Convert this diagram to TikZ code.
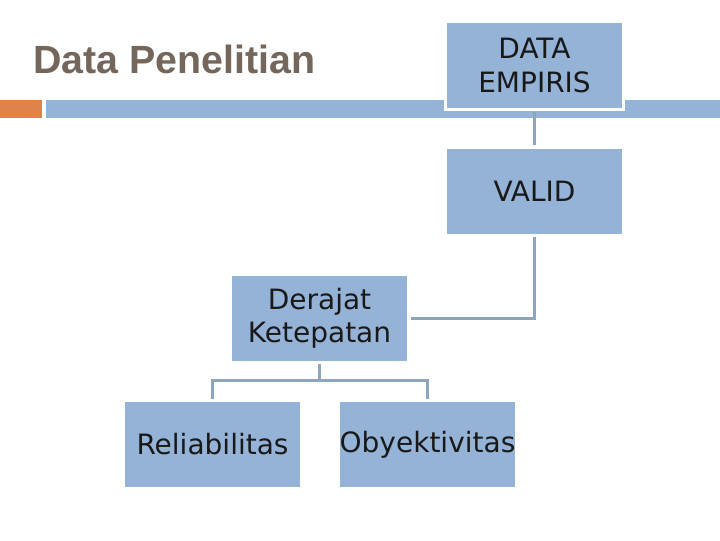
\documentclass[tikz,border=0pt]{standalone}
\usepackage{fontspec}
\newfontfamily\titlefont{Liberation Sans}
\newfontfamily\boxfont{DejaVu Sans}
\usepackage{tikz}
\definecolor{boxblue}{HTML}{95B3D7}
\definecolor{linegray}{HTML}{8EA6BC}
\definecolor{titlebrown}{RGB}{117,102,92}
\definecolor{accentorange}{HTML}{E0834A}

\begin{document}
\begin{tikzpicture}[x=0.75pt, y=-0.75pt,
  box/.style={rectangle, fill=boxblue, draw=white, line width=2.25pt,
    minimum width=133.5pt, minimum height=66pt, inner sep=0pt, outer sep=1.5pt,
    align=center, font=\boxfont\fontsize{21}{25}\selectfont, text=black!90},
  conn/.style={draw=linegray, line width=2.25pt}]
  \useasboundingbox[fill=white] (0,0) rectangle (720,540);
  % title and header bar
  \node[anchor=base west, inner sep=0pt, text=titlebrown,
    font=\titlefont\bfseries\fontsize{29.5}{35}\selectfont] (title) at (33,73) {Data Penelitian};
  \fill[accentorange] (0,100) rectangle (42,118);
  \fill[boxblue] (46,100) rectangle (720,118);
  % boxes
  \node[box] (empiris) at (534.5,65.5)  {DATA\\EMPIRIS};
  \node[box] (valid)   at (534.5,191)   {VALID};
  \node[box] (derajat) at (319.5,318)   {Derajat\\Ketepatan};
  \node[box] (reliab)  at (212.5,444.5) {Reliabilitas};
  \node[box] (obyek)   at (427.5,444.5) {Obyektivitas};
  \coordinate (split) at (319.5,380);
  % connectors
  \draw[conn] (empiris) -- (valid);
  \draw[conn] (valid.south) |- (derajat.east);
  \draw[conn] (derajat.south) -- (split);
  \draw[conn] (split) -| (reliab.north);
  \draw[conn] (split) -| (obyek.north);
\end{tikzpicture}
\end{document}
